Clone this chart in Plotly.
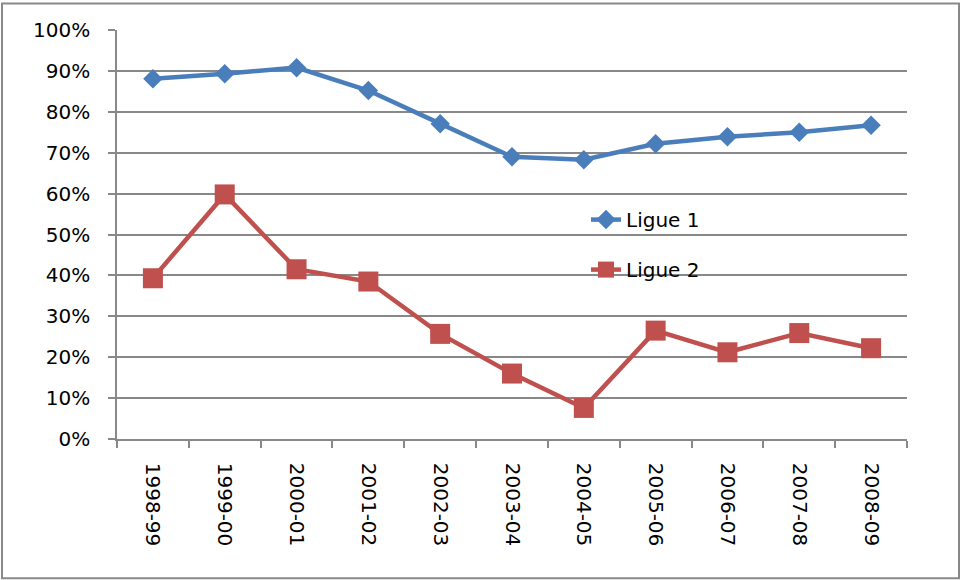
import plotly.graph_objects as go

seasons = ["1998-99", "1999-00", "2000-01", "2001-02", "2002-03", "2003-04",
           "2004-05", "2005-06", "2006-07", "2007-08", "2008-09"]
ligue1 = [0.881, 0.893, 0.908, 0.852, 0.771, 0.690, 0.683, 0.722, 0.739, 0.750, 0.767]
ligue2 = [0.393, 0.598, 0.415, 0.385, 0.257, 0.160, 0.076, 0.265, 0.212, 0.259, 0.222]
y_ticks = [i / 10 for i in range(11)]
y_labels = [f"{i * 10}%" for i in range(11)]

FONT = "DejaVu Sans"
GRID = "#888888"

fig = go.Figure()
fig.add_trace(go.Scatter(
    x=seasons, y=ligue1, name="Ligue 1", mode="lines+markers",
    line=dict(color="#4A7EBB", width=4.5),
    marker=dict(symbol="diamond", size=15, color="#4A7EBB"),
    legendgroup="a",
))
fig.add_trace(go.Scatter(
    x=seasons, y=ligue2, name="Ligue 2", mode="lines+markers",
    line=dict(color="#C0504D", width=4.5),
    marker=dict(symbol="square", size=20, color="#C0504D"),
    legendgroup="b",
))

L, R, T, B = 117, 54, 29.5, 140.5
W, H = 961, 580
pw, ph = W - L - R, H - T - B


def px(x):
    return (x - L) / pw


def py(y):
    return (H - B - y) / ph


fig.update_layout(
    width=W, height=H,
    margin=dict(l=L, r=R, t=T, b=B, pad=0),
    paper_bgcolor="white", plot_bgcolor="white",
    font=dict(family=FONT, size=20, color="#000000"),
    showlegend=True,
    legend=dict(
        x=px(586), y=py(200), xanchor="left", yanchor="top",
        bgcolor="rgba(0,0,0,0)", tracegroupgap=21,
        font=dict(family=FONT, size=20, color="#000000"),
    ),
    xaxis=dict(
        type="category", range=[-0.5, 10.5],
        showgrid=False, showline=True, linecolor=GRID, linewidth=1.5,
        ticks="outside", ticklen=7, tickcolor=GRID, tickwidth=1.5,
        tickson="boundaries", tickangle=90,
        tickfont=dict(family=FONT, size=20, color="#000000"),
        ticklabelstandoff=18,
    ),
    yaxis=dict(
        range=[0, 1], tickvals=y_ticks, ticktext=y_labels,
        showgrid=True, gridcolor=GRID, gridwidth=1.5,
        showline=True, linecolor=GRID, linewidth=1.5,
        ticks="outside", ticklen=7, tickcolor=GRID, tickwidth=1.5,
        zeroline=False,
        tickfont=dict(family=FONT, size=20, color="#000000"),
        ticklabelstandoff=14,
    ),
    shapes=[dict(
        type="rect", xref="paper", yref="paper",
        x0=px(2), x1=px(959), y0=py(579), y1=py(3),
        line=dict(color="#898989", width=2), fillcolor="rgba(0,0,0,0)",
        layer="below",
    )],
)

fig.write_html("out.html", config={"displayModeBar": False},
               post_script="document.body.style.margin='0px';")
